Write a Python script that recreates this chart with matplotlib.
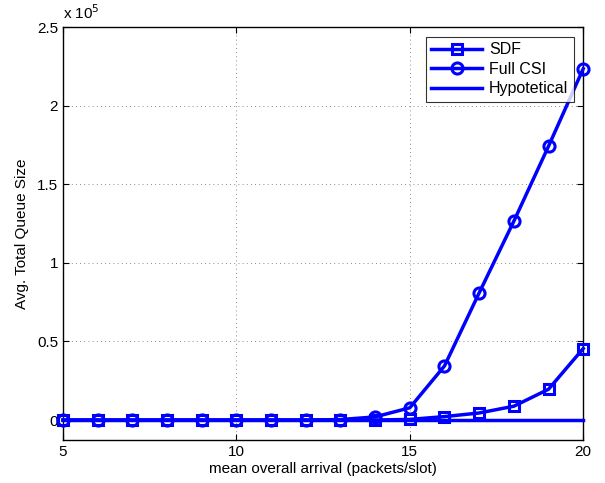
import matplotlib
matplotlib.use("Agg")
import matplotlib.pyplot as plt
import numpy as np

x = [5, 6, 7, 8, 9, 10, 11, 12, 13, 14, 15, 16, 17, 18, 19, 20]
sdf = [0, 0, 0, 0, 0, 0, 0, 0, 0, 0, 400, 2200, 4500, 8800, 19600, 45500]
full_csi = [0, 0, 0, 0, 0, 0, 0, 0, 300, 2000, 7800, 34400, 80900, 126500, 174200, 223500]
hypo = [0, 0, 0, 0, 0, 0, 0, 0, 0, 0, 0, 0, 0, 0, 0, 0]
xticks = [5, 10, 15, 20]
yticks = [0, 0.5e5, 1e5, 1.5e5, 2e5, 2.5e5]
yticklabels = ["0", "0.5", "1", "1.5", "2", "2.5"]

plt.rcParams['font.family'] = ['Liberation Sans', 'DejaVu Sans']
fig = plt.figure(figsize=(6.05, 4.83), dpi=100)
ax = fig.add_axes([0.104, 0.089, 0.860, 0.855])

blue = '#0000ff'
ax.plot(x, sdf, color=blue, lw=2.5, marker='s', ms=7, mfc='none', mew=2.2, label='SDF', clip_on=False, zorder=4)
ax.plot(x, full_csi, color=blue, lw=2.5, marker='o', ms=8, mfc='none', mew=2.2, label='Full CSI', clip_on=False, zorder=4)
ax.plot(x, hypo, color=blue, lw=2.5, label='Hypotetical', clip_on=False, zorder=3)

ax.set_xlim(5, 20)
ax.set_ylim(-1.27e4, 2.5e5)
ax.set_xticks(xticks)
ax.set_yticks(yticks)
ax.set_yticklabels(yticklabels)
ax.tick_params(direction='in', length=4, labelsize=11, width=0.8, top=True, right=True)
ax.grid(True, linestyle=(0, (1, 4)), color='#666666', linewidth=0.6)
for s in ax.spines.values():
    s.set_linewidth(1.0)
ax.set_xlabel('mean overall arrival (packets/slot)', fontsize=11, labelpad=2)
ax.set_ylabel('Avg. Total Queue Size', fontsize=11, labelpad=6)
ax.text(0.0, 1.012, r'x 10$^5$', transform=ax.transAxes, fontsize=11, ha='left', va='bottom')

leg = ax.legend(loc='upper right', fontsize=11.5, frameon=True, fancybox=False,
                edgecolor='black', borderaxespad=0.6, handlelength=3.2,
                labelspacing=0.28, borderpad=0.35, handletextpad=0.4)
leg.get_frame().set_linewidth(0.8)

fig.savefig('out.png', dpi=100)
